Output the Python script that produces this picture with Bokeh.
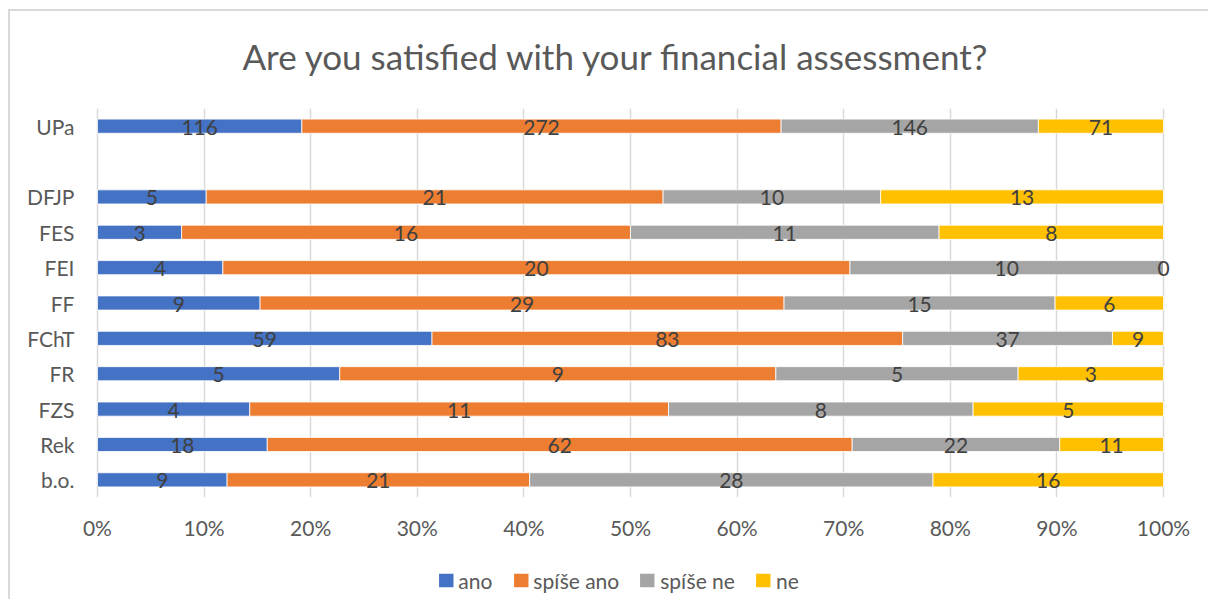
from bokeh.plotting import figure
from bokeh.layouts import column
from bokeh.models import (ColumnDataSource, FactorRange, FixedTicker, NumeralTickFormatter,
                          Legend, LegendItem, Range1d, Title)
from bokeh.core.properties import value
from bokeh.embed import file_html
from bokeh.resources import INLINE

# ---- data ----
categories = ["UPa", "DFJP", "FES", "FEI", "FF", "FChT", "FR", "FZS", "Rek", "b.o."]
ano = [116, 5, 3, 4, 9, 59, 5, 4, 18, 9]
spise_ano = [272, 21, 16, 20, 29, 83, 9, 11, 62, 21]
spise_ne = [146, 10, 11, 10, 15, 37, 5, 8, 22, 28]
ne = [71, 13, 8, 0, 6, 9, 3, 5, 11, 16]
series_names = ["ano", "spíše ano", "spíše ne", "ne"]
colors = ["#4472C4", "#ED7D31", "#A5A5A5", "#FFC000"]
tick_values = [0.0, 0.1, 0.2, 0.3, 0.4, 0.5, 0.6, 0.7, 0.8, 0.9, 1.0]
# order of rows top-to-bottom (blank row separates the total from faculties)
row_order = ["UPa", " ", "DFJP", "FES", "FEI", "FF", "FChT", "FR", "FZS", "Rek", "b.o."]
title_text = "Are you satisfied with your financial assessment?"

FONT = "Lato"

series = [ano, spise_ano, spise_ne, ne]
keys = ["s0", "s1", "s2", "s3"]
totals = [sum(v) for v in zip(*series)]
data = {"cat": categories}
for k, s in zip(keys, series):
    data[k] = [v / t for v, t in zip(s, totals)]
source = ColumnDataSource(data)

p = figure(width=1198, height=549, output_backend="svg", toolbar_location=None, title=None,
           y_range=FactorRange(factors=list(reversed(row_order)), range_padding=0),
           x_range=Range1d(-0.0356, 1.0122),
           min_border_left=49, min_border_right=32, min_border_top=97, min_border_bottom=63)
p.outline_line_color = None
p.background_fill_color = "white"
p.border_fill_color = "white"

# spacer between frame and title, then the title itself
p.add_layout(Title(text=" ", text_font_size="13px"), "above")
p.add_layout(Title(text=title_text, text_font=FONT, text_font_size="35px",
                   text_font_style="normal", text_color="#595959", align="left", offset=183),
             "above")

renderers = p.hbar_stack(keys, y="cat", height=0.4, color=colors, source=source,
                         line_color="white", line_width=0.8)

# data labels
for i, (k, s) in enumerate(zip(keys, series)):
    starts = [0.0] * len(categories)
    for j in range(i):
        starts = [a + b for a, b in zip(starts, data[keys[j]])]
    centers = [a + w / 2 for a, w in zip(starts, data[k])]
    lab = ColumnDataSource(dict(x=centers, y=categories, t=[str(v) for v in s]))
    p.text(x="x", y="y", text="t", source=lab, text_align="center", text_baseline="middle",
           text_font=value(FONT), text_font_size="21px", text_color="#404040", y_offset=1)

# axes
p.xaxis.ticker = FixedTicker(ticks=tick_values)
p.xaxis.formatter = NumeralTickFormatter(format="0%")
for ax in (p.xaxis, p.yaxis):
    ax.axis_line_color = None
    ax.major_tick_line_color = None
    ax.minor_tick_line_color = None
    ax.major_tick_out = 0
    ax.major_tick_in = 0
    ax.major_label_text_font = FONT
    ax.major_label_text_font_size = "21px"
    ax.major_label_text_color = "#595959"
p.xaxis.major_label_standoff = 17
p.yaxis.major_label_standoff = -15

p.xgrid.ticker = FixedTicker(ticks=tick_values)
p.xgrid.grid_line_color = "#D9D9D9"
p.xgrid.grid_line_width = 1.5
p.ygrid.grid_line_color = None

# legend strip below the chart (its zero-height bars are never seen; only the legend shows)
leg = figure(width=1198, height=39, output_backend="svg", toolbar_location=None,
             x_axis_location=None, y_axis_location=None,
             x_range=Range1d(2, 3), y_range=FactorRange(factors=list(reversed(row_order))),
             min_border_left=49, min_border_right=32, min_border_top=0, min_border_bottom=0)
leg.outline_line_color = None
leg.grid.grid_line_color = None
leg_renderers = leg.hbar_stack(keys, y="cat", height=0, color=colors, source=source,
                               line_color=None)
legend = Legend(items=[LegendItem(label=n, renderers=[r]) for n, r in zip(series_names, leg_renderers)],
                orientation="horizontal", location="center", padding=0, margin=0,
                spacing=19, label_standoff=4, glyph_width=18, glyph_height=17,
                label_text_font=FONT, label_text_font_size="21px", label_text_color="#595959",
                border_line_color=None, background_fill_alpha=0)
leg.add_layout(legend, "center")

layout = column(p, leg, spacing=0,
                styles={"border-left": "2px solid #D9D9D9", "border-top": "2px solid #D9D9D9",
                        "margin-left": "8px", "margin-top": "9px"})

open("out.html", "w").write(file_html(layout, INLINE))
